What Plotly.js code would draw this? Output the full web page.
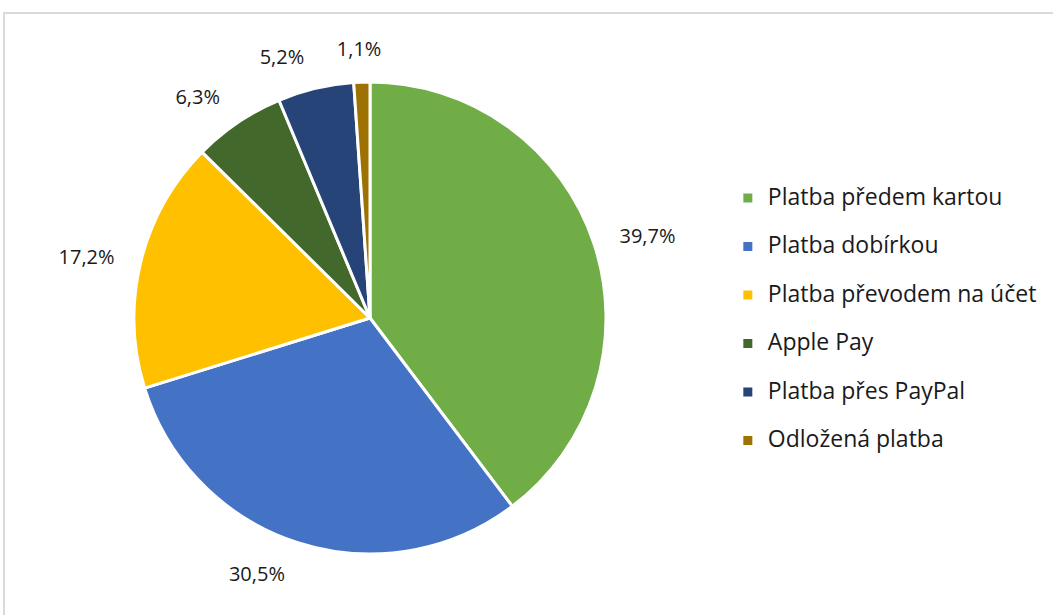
<!DOCTYPE html>
<html>
<head>
<meta charset="utf-8">
<script src="https://cdn.plot.ly/plotly-3.0.1.min.js"></script>
<style>
html, body { margin: 0; padding: 0; background: #fff; }
#chart { width: 1053px; height: 615px; }
</style>
</head>
<body>
<div id="chart"></div>
<script>
const categories = [
  "Platba předem kartou",
  "Platba dobírkou",
  "Platba převodem na účet",
  "Apple Pay",
  "Platba přes PayPal",
  "Odložená platba"
];
const shares = [39.7, 30.5, 17.2, 6.3, 5.2, 1.1];
const sliceColors = ["#70AD47", "#4472C4", "#FFC000", "#43682B", "#264478", "#9E7202"];

const labelTexts = shares.map(v => v.toFixed(1).replace(".", ",") + "%");
const legendLabels = categories.map(c => '<span style="font-size:23px">' + c + '</span><br> ');

const W = 1053, H = 615;
const cx = 370, cy = 318, r = 236, rl = 256;
function dom(rad, dx) {
  const x0 = cx + (dx || 0);
  return {
    x: [(x0 - rad) / W, (x0 + rad) / W],
    y: [1 - (cy + rad) / H, 1 - (cy - rad) / H]
  };
}

const pie = {
  type: "pie",
  labels: legendLabels,
  values: shares,
  sort: false,
  direction: "clockwise",
  rotation: 0,
  marker: { colors: sliceColors, line: { color: "#ffffff", width: 3 } },
  textinfo: "none",
  hoverinfo: "percent",
  domain: dom(r),
  showlegend: true
};

const last = shares.length - 1;
function ghost(showIdx, dx) {
  return {
    type: "pie",
    labels: legendLabels,
    values: shares,
    sort: false,
    direction: "clockwise",
    rotation: 0,
    marker: { colors: shares.map(() => "rgba(0,0,0,0)"), line: { width: 0 } },
    text: labelTexts,
    textinfo: "text",
    textposition: shares.map((v, i) => showIdx(i) ? "outside" : "none"),
    outsidetextfont: { family: "'Open Sans', sans-serif", size: 20, color: "#1a1a1a" },
    hoverinfo: "skip",
    domain: dom(rl, dx),
    showlegend: false
  };
}

const layout = {
  width: W,
  height: H,
  margin: { l: 0, r: 0, t: 0, b: 0 },
  paper_bgcolor: "#ffffff",
  showlegend: true,
  legend: {
    x: 0.6912, xanchor: "left",
    y: 1 - 180 / H, yanchor: "top",
    font: { family: "'Open Sans', sans-serif", size: 17.5, color: "#1a1a1a" },
    valign: "top",
    bgcolor: "rgba(0,0,0,0)",
    traceorder: "normal"
  },
  shapes: [{
    type: "rect", xref: "paper", yref: "paper",
    x0: 4 / W, x1: 1.05, y0: -0.05, y1: 1 - 13 / H,
    line: { color: "#d9d9d9", width: 2 }, fillcolor: "rgba(0,0,0,0)", layer: "above"
  }]
};

Plotly.newPlot("chart", [ghost(i => i !== last, 0), ghost(i => i === last, 27), pie], layout,
  { displayModeBar: false, staticPlot: true });
</script>
</body>
</html>
